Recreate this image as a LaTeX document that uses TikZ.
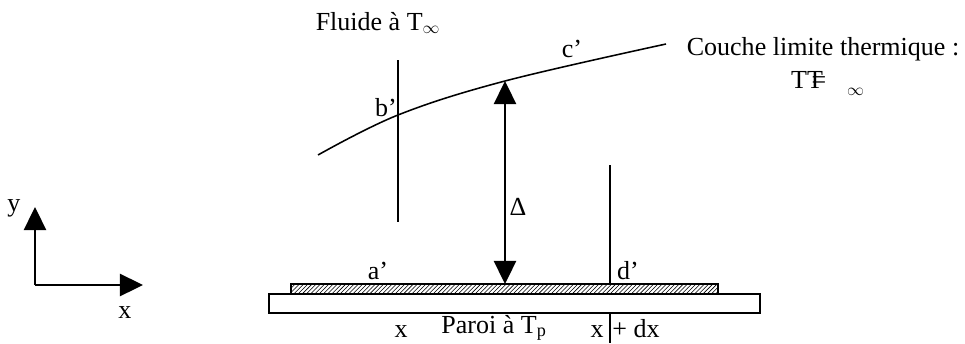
\documentclass[tikz,border=0pt]{standalone}
\usepackage{fontspec}
\setmainfont{Liberation Serif}
\usetikzlibrary{arrows.meta,patterns}

\begin{document}
\begin{tikzpicture}[
  x=0.025cm, y=-0.025cm,
  lbl/.style={inner sep=0pt,anchor=base,font=\fontsize{18.5}{20}\selectfont},
  ln/.style={line width=1.1pt},
  big/.style={-{Triangle[length=0.58cm,width=0.56cm]},line width=1.1pt}
]
\useasboundingbox (0,0) rectangle (965,343);
% plate and coloured film
\coordinate (up) at (610,165);
\coordinate (down) at (610,343);
\draw[ln] (up) -- (down);
\draw[ln,fill=white] (269,294) rectangle (760,313);
\draw[ln,preaction={fill=white},pattern=north east lines] (291,284) rectangle (718,294);
% left section line
\coordinate (ltop) at (398,60);
\coordinate (lbot) at (398,222);
\draw[ln] (ltop) -- (lbot);
% thermal boundary layer
\draw[ln] plot[smooth,tension=0.6] coordinates {(318,155) (398,115) (505,81) (666,44)};
% thickness
\coordinate (dtop) at (505,81);
\coordinate (dbot) at (505,284);
\draw[big,{Triangle[length=0.58cm,width=0.56cm]}-{Triangle[length=0.58cm,width=0.56cm]}] (dtop) -- (dbot);
% axes
\coordinate (o) at (35,285);
\coordinate (ox) at (143,285);
\coordinate (oy) at (35,207);
\draw[big] (o) -- (ox);
\draw[big] (o) -- (oy);
% labels
\node[lbl] (fluide) at (378,30) {Fluide à T$_\infty$};
\node[lbl] (cp) at (572,57) {c’};
\node[lbl] (bp) at (386,116) {b’};
\node[lbl] (couche) at (823,55) {Couche limite thermique :};
\node[lbl] (tt) at (807,88) {TT};
\node[lbl] (eq) at (819,88) {=};
\node[lbl] (inf) at (856,92) {$_\infty$};
\node[lbl] (delta) at (518,215) {Δ};
\node[lbl] (ay) at (14,211) {y};
\node[lbl] (ax) at (125,318) {x};
\node[lbl] (ap) at (378,279) {a’};
\node[lbl] (dp) at (628,279) {d’};
\node[lbl] (x1) at (401,337) {x};
\node[lbl] (paroi) at (494,333) {Paroi à T\textsubscript{p}};
\node[lbl] (x2) at (597,337) {x};
\node[lbl] (pdx) at (636,337) {+ dx};
\end{tikzpicture}
\end{document}
